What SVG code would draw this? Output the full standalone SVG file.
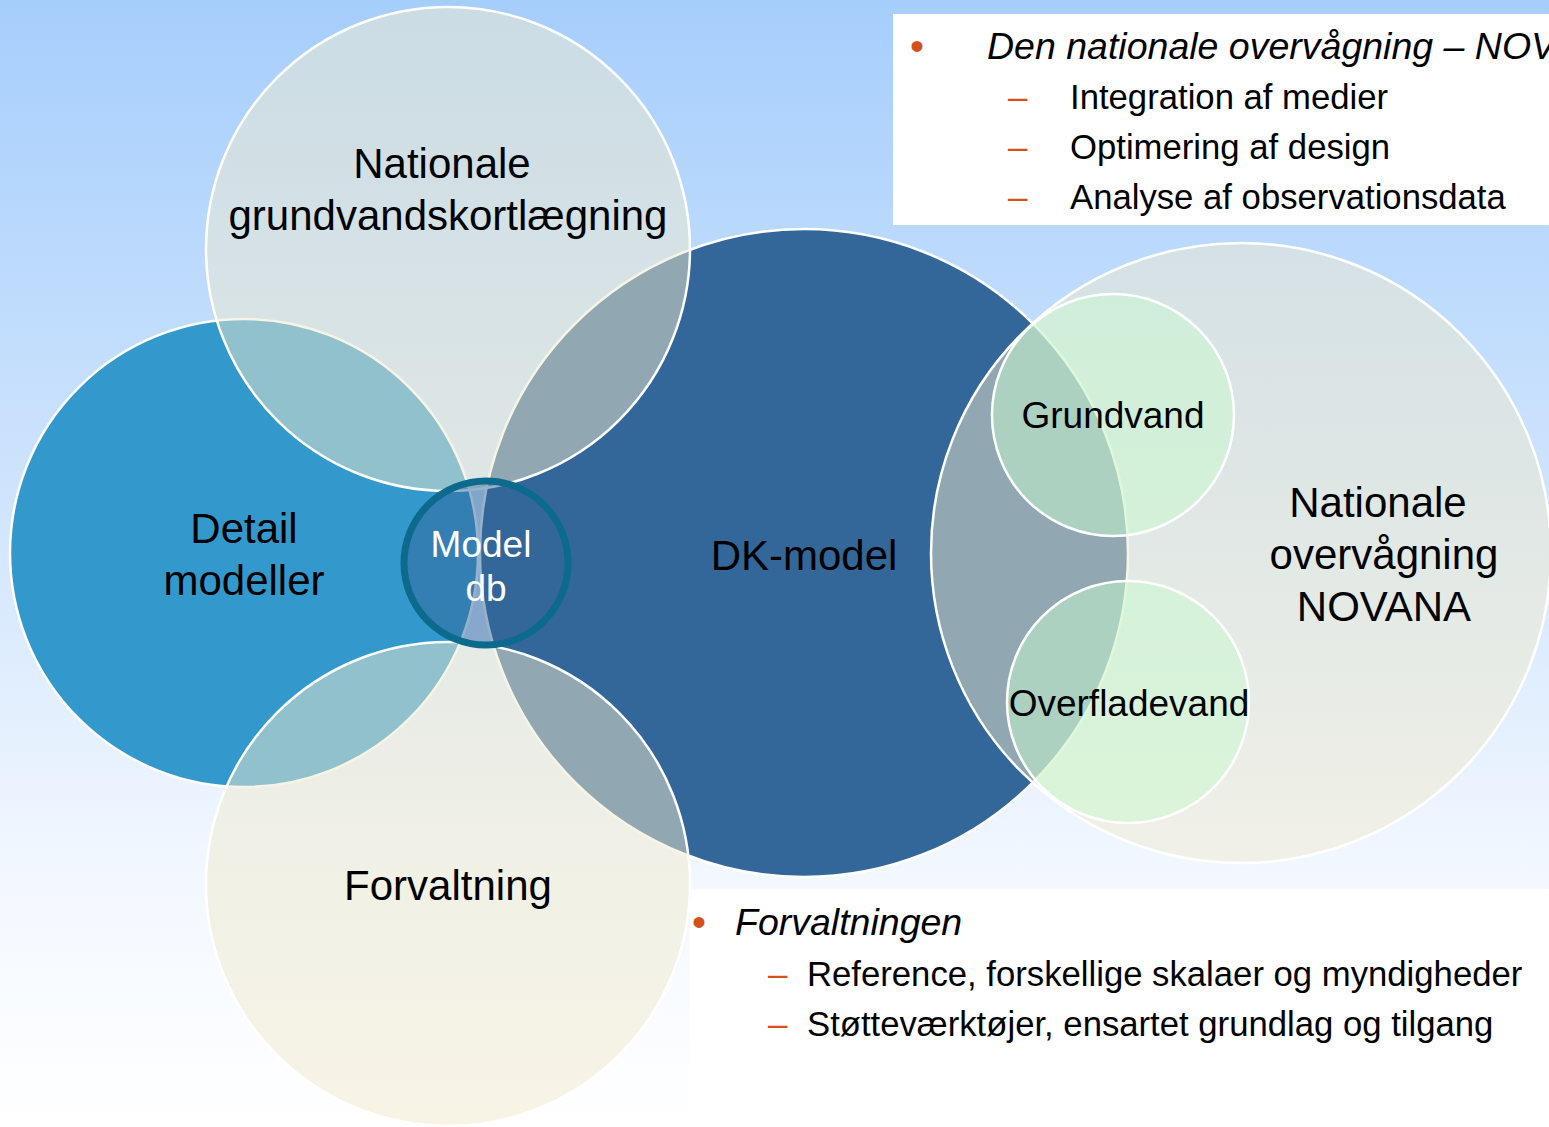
<svg xmlns="http://www.w3.org/2000/svg" width="1549" height="1127" viewBox="0 0 1549 1127">
  <defs>
    <linearGradient id="sky" x1="0" y1="0" x2="0" y2="1127" gradientUnits="userSpaceOnUse">
      <stop offset="0" stop-color="#a6cefc"/>
      <stop offset="0.45" stop-color="#d0e5fd"/>
      <stop offset="0.78" stop-color="#f3f8ff"/>
      <stop offset="1" stop-color="#ffffff"/>
    </linearGradient>
    <clipPath id="topBoxClip">
      <rect x="893" y="14" width="656" height="211"/>
    </clipPath>
  </defs>
  <style>
    .ring { stroke: #ffffff; stroke-width: 2.5; }
    .cream { fill: rgb(240,233,206); fill-opacity: 0.5; }
    .green { fill: rgb(200,250,205); fill-opacity: 0.5; }
    .label { font-family: "Liberation Sans", Arial, sans-serif; fill: #000000; text-anchor: middle; }
    .big { font-size: 42px; }
    .mid { font-size: 37px; }
    .body { font-family: "Liberation Sans", Arial, sans-serif; font-size: 34.7px; fill: #000000; }
    .head { font-family: "Liberation Sans", Arial, sans-serif; font-size: 37.5px; font-style: italic; fill: #000000; }
    .mark { font-family: "Liberation Sans", Arial, sans-serif; fill: #d4501c; }
  </style>

  <!-- backdrop -->
  <rect x="0" y="0" width="1549" height="1127" fill="url(#sky)"/>
  <rect x="690" y="889" width="859" height="238" fill="#ffffff"/>

  <g id="connectors"/>

  <!-- Venn circles -->
  <g id="node-dk-model">
    <circle class="ring" cx="804" cy="553" r="324" fill="#336699"/>
    <text class="label big" x="804" y="570">DK-model</text>
  </g>

  <g id="node-detail">
    <circle class="ring" cx="244" cy="553" r="234" fill="#3399cc"/>
    <text class="label big" x="244" y="543">Detail</text>
    <text class="label big" x="244" y="595">modeller</text>
  </g>

  <g id="node-grundvandskortlaegning">
    <circle class="ring cream" cx="448" cy="249" r="242"/>
    <text class="label big" x="442" y="178">Nationale</text>
    <text class="label big" x="448" y="230">grundvandskortlægning</text>
  </g>

  <g id="node-forvaltning">
    <circle class="ring cream" cx="448" cy="884" r="242"/>
    <text class="label big" x="448" y="900">Forvaltning</text>
  </g>

  <g id="node-novana">
    <circle class="ring cream" cx="1241" cy="553" r="310"/>
    <text class="label big" x="1378" y="517">Nationale</text>
    <text class="label big" x="1384" y="569">overvågning</text>
    <text class="label big" x="1384" y="621">NOVANA</text>
  </g>

  <g id="node-grundvand">
    <circle class="ring green" cx="1113" cy="415" r="121"/>
    <text class="label mid" x="1113" y="428">Grundvand</text>
  </g>

  <g id="node-overfladevand">
    <circle class="ring green" cx="1128" cy="702" r="121"/>
    <text class="label mid" x="1129" y="716">Overfladevand</text>
  </g>

  <g id="node-model-db">
    <circle cx="486" cy="563" r="82" fill="#336699" fill-opacity="0.5" stroke="#0c6b8c" stroke-width="7"/>
    <text class="label mid" x="481" y="557" style="fill:#ffffff">Model</text>
    <text class="label mid" x="486" y="601" style="fill:#ffffff">db</text>
  </g>

  <!-- text panel: national monitoring -->
  <g id="panel-novana">
    <rect x="893" y="14" width="656" height="211" fill="#ffffff"/>
    <g clip-path="url(#topBoxClip)">
      <text class="mark" x="910" y="60" font-size="40">•</text>
      <text class="head" x="987" y="59">Den nationale overvågning – NOV</text>
      <text class="mark" x="1008" y="109" font-size="35">–</text>
      <text class="body" x="1070" y="109">Integration af medier</text>
      <text class="mark" x="1008" y="159" font-size="35">–</text>
      <text class="body" x="1070" y="159">Optimering af design</text>
      <text class="mark" x="1008" y="209" font-size="35">–</text>
      <text class="body" x="1070" y="209">Analyse af observationsdata</text>
    </g>
  </g>

  <!-- text panel: administration -->
  <g id="panel-forvaltningen">
    <text class="mark" x="692" y="936" font-size="40">•</text>
    <text class="head" x="735" y="935">Forvaltningen</text>
    <text class="mark" x="768" y="986" font-size="35">–</text>
    <text class="body" x="807" y="986">Reference, forskellige skalaer og myndigheder</text>
    <text class="mark" x="768" y="1036" font-size="35">–</text>
    <text class="body" x="807" y="1036">Støtteværktøjer, ensartet grundlag og tilgang</text>
  </g>
</svg>
